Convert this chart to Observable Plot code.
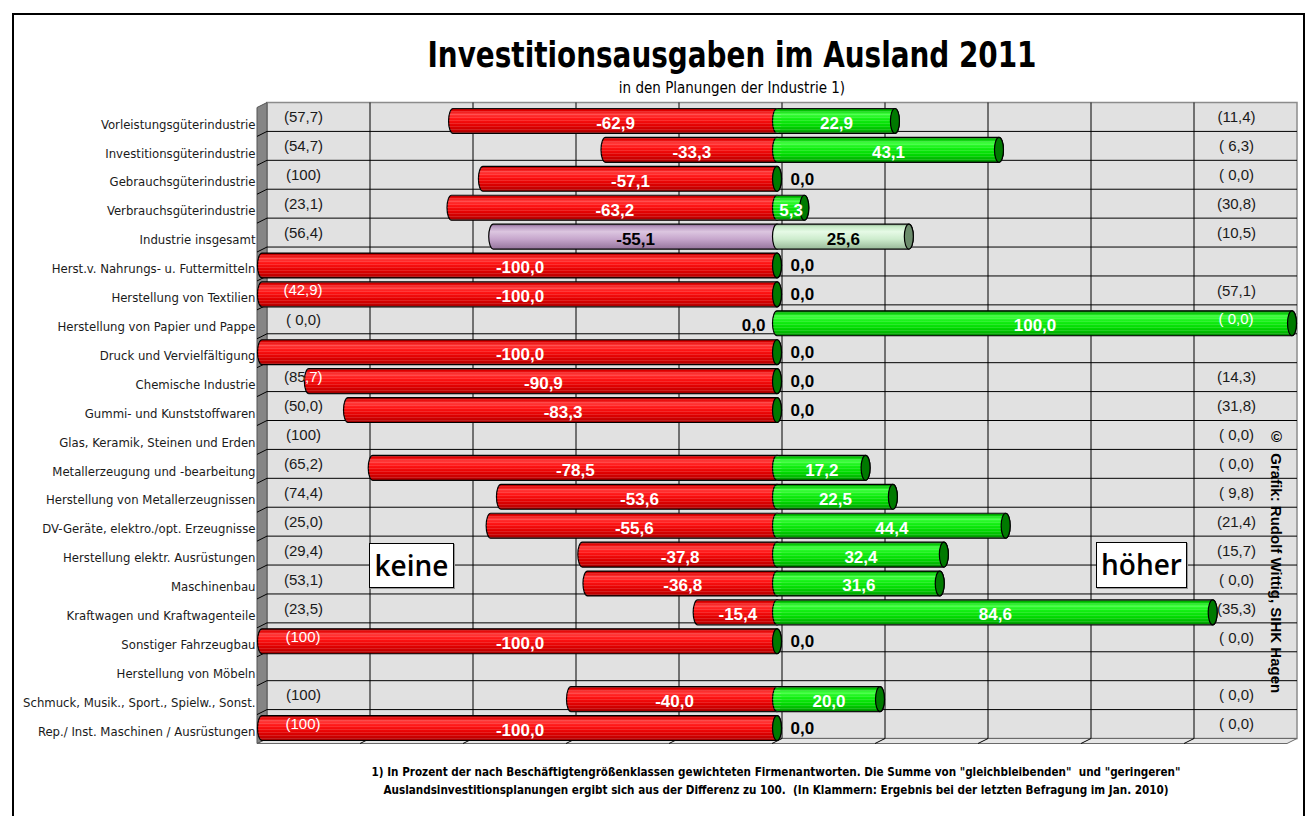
<!DOCTYPE html>
<html>
<head>
<meta charset="utf-8">
<script src="https://cdn.jsdelivr.net/npm/d3@7"></script>
<script src="https://cdn.jsdelivr.net/npm/@observablehq/plot@0.6"></script>
<style>
  html, body { margin: 0; padding: 0; background: #fff; }
  #page { position: relative; width: 1310px; height: 816px; overflow: hidden; background: #fff; }
  .narrow { font-family: 'Liberation Sans Narrow', 'DejaVu Sans Condensed', sans-serif; }
  #border { position: absolute; left: 12px; top: 13px; width: 1293px; height: 840px; border: 2px solid #000; box-sizing: border-box; }
  #title { position: absolute; left: 232px; width: 1000px; top: 35px; text-align: center; font-size: 36px; font-weight: bold; line-height: 40px; color: #000; transform: scaleX(0.86); transform-origin: 500px 50%; }
  #subtitle { position: absolute; left: 382px; width: 700px; top: 79px; text-align: center; font-size: 15px; line-height: 18px; color: #000; }
  #chart { position: absolute; left: 0; top: 96px; }
  .box { position: absolute; background: #fff; border: 1px solid #000; box-shadow: 1px 1px 0 #999; text-align: center; font-family: 'Open Sans', 'Liberation Sans', sans-serif; font-weight: 600; font-size: 28px; color: #000; box-sizing: border-box; }
  #copy { position: absolute; left: 1268px; top: 428px; writing-mode: vertical-rl; font-family: 'Liberation Sans', sans-serif; font-weight: bold; font-size: 15px; color: #000; white-space: pre; }
  #foot { position: absolute; left: 276px; width: 1000px; top: 763px; text-align: center; font-size: 11.6px; font-weight: bold; line-height: 18px; white-space: pre; color: #000; }
</style>
</head>
<body>
<div id="page">
  <div id="border"></div>
  <div id="title" class="narrow">Investitionsausgaben im Ausland 2011</div>
  <div id="subtitle" class="narrow">in den Planungen der Industrie 1)</div>
  <div id="chart"></div>
  <div class="box" style="left:369px;top:543px;width:85px;height:45px;line-height:42px;">keine</div>
  <div class="box" style="left:1096px;top:542px;width:91px;height:46px;line-height:43px;">höher</div>
  <div id="copy">©  Grafik: Rudolf Wittig, SIHK Hagen</div>
  <div id="foot" class="narrow">1) In Prozent der nach Beschäftigtengrößenklassen gewichteten Firmenantworten. Die Summe von "gleichbleibenden"  und "geringeren"
Auslandsinvestitionsplanungen ergibt sich aus der Differenz zu 100.  (In Klammern: Ergebnis bei der letzten Befragung im Jan. 2010)</div>
</div>
<script>
// ---------------- data ----------------
const categories = [
  "Vorleistungsgüterindustrie",
  "Investitionsgüterindustrie",
  "Gebrauchsgüterindustrie",
  "Verbrauchsgüterindustrie",
  "Industrie insgesamt",
  "Herst.v. Nahrungs- u. Futtermitteln",
  "Herstellung von Textilien",
  "Herstellung von Papier und Pappe",
  "Druck und Vervielfältigung",
  "Chemische Industrie",
  "Gummi- und Kunststoffwaren",
  "Glas, Keramik, Steinen und Erden",
  "Metallerzeugung und -bearbeitung",
  "Herstellung von Metallerzeugnissen",
  "DV-Geräte, elektro./opt. Erzeugnisse",
  "Herstellung elektr. Ausrüstungen",
  "Maschinenbau",
  "Kraftwagen und Kraftwagenteile",
  "Sonstiger Fahrzeugbau",
  "Herstellung von Möbeln",
  "Schmuck, Musik., Sport., Spielw., Sonst.",
  "Rep./ Inst. Maschinen / Ausrüstungen"
];
// 2011: share "keine" (negative side) and "höher" (positive side)
const keine  = [-62.9, -33.3, -57.1, -63.2, -55.1, -100, -100, 0, -100, -90.9, -83.3, null, -78.5, -53.6, -55.6, -37.8, -36.8, -15.4, -100, null, -40.0, -100];
const hoeher = [22.9, 43.1, 0, 5.3, 25.6, 0, 0, 100, 0, 0, 0, null, 17.2, 22.5, 44.4, 32.4, 31.6, 84.6, 0, null, 20.0, 0];
// previous survey (Jan. 2010), in brackets
const keinePrev  = [57.7, 54.7, 100, 23.1, 56.4, null, 42.9, 0, null, 85.7, 50.0, 100, 65.2, 74.4, 25.0, 29.4, 53.1, 23.5, 100, null, 100, 100];
const hoeherPrev = [11.4, 6.3, 0, 30.8, 10.5, null, 57.1, 0, null, 14.3, 31.8, 0, 0, 9.8, 21.4, 15.7, 0, 35.3, 0, null, 0, 0];
const gridTicks = [-80, -60, -40, -20, 0, 20, 40, 60, 80];
const totalCategory = "Industrie insgesamt";

// ---------------- helpers ----------------
const rows = categories.map((cat, i) => ({cat, k: keine[i], h: hoeher[i], kp: keinePrev[i], hp: hoeherPrev[i], total: cat === totalCategory}));
const fmt = v => (v < 0 ? "-" : "") + Math.abs(v).toFixed(1).replace(".", ",");
const fmtPrev = v => v === 100 ? "(100)" : "(" + (v < 10 ? " " : "") + v.toFixed(1).replace(".", ",") + ")";

const CAP = 4.5;          // half-width of the cylinder end ellipse
const INSET = 2;          // vertical inset of bars within a row
const PAREN_L_DX = 41, PAREN_R_DX = -56, PAREN_DY = -4, PAREN_SIZE = 15;
const VAL_SIZE = 17;
const NARROW = "'Liberation Sans Narrow', 'DejaVu Sans Condensed', sans-serif";
const VALFONT = "'Liberation Sans', Arial, sans-serif";

function bandwidthOf(y) { return typeof y.bandwidth === "function" ? y.bandwidth() : y.bandwidth; }

// gradient definitions
function defsMark() {
  const defs = d3.create("svg:defs");
  const grad = (id, stops) => {
    const g = defs.append("linearGradient").attr("id", id).attr("x1", 0).attr("y1", 0).attr("x2", 0).attr("y2", 1);
    stops.forEach(([o, c]) => g.append("stop").attr("offset", o).attr("stop-color", c));
  };
  grad("gRed", [[0, "#8a0000"], [0.08, "#e00000"], [0.22, "#ff3a3a"], [0.42, "#ff1414"], [0.7, "#e00000"], [0.9, "#c20000"], [1, "#8a0000"]]);
  grad("gGreen", [[0, "#006000"], [0.08, "#00c400"], [0.22, "#40ff40"], [0.42, "#14f014"], [0.7, "#00d800"], [0.9, "#00b000"], [1, "#006c00"]]);
  grad("gLilac", [[0, "#806088"], [0.1, "#b898c0"], [0.3, "#dcc6e0"], [0.6, "#c6a6cc"], [1, "#95759c"]]);
  grad("gLight", [[0, "#8aa88a"], [0.1, "#c6eac6"], [0.3, "#e6fae6"], [0.6, "#cdeccd"], [1, "#98b898"]]);
  const p = defs.append("pattern").attr("id", "stripes").attr("width", 6).attr("height", 3).attr("patternUnits", "userSpaceOnUse");
  p.append("rect").attr("width", 6).attr("height", 1).attr("fill", "#fff").attr("fill-opacity", 0.13);
  return defs.node();
}

// 3D box: back wall, left wall, floor, grid
function boxMark(index, scales, values, dims) {
  const x = scales.x, y = scales.y;
  const g = d3.create("svg:g");
  const bx = v => x(v) + 5, fx = v => x(v) - 5;
  const top = dims.marginTop, bot = dims.height - dims.marginBottom;
  const bT = top - 4, bB = bot - 4, fB = bot + 1, fT = top + 1;
  g.append("rect").attr("x", bx(-100)).attr("y", bT).attr("width", bx(100) - bx(-100)).attr("height", bB - bT)
    .attr("fill", "#e1e1e1").attr("stroke", "#8c8c8c").attr("stroke-width", 1.5);
  g.append("path").attr("d", `M${fx(-100)},${fB}L${fx(100)},${fB}L${bx(100)},${bB}L${bx(-100)},${bB}Z`)
    .attr("fill", "#e6e6e6").attr("stroke", "#6a6a6a");
  g.append("path").attr("d", `M${fx(-100)},${fT}L${bx(-100)},${bT}L${bx(-100)},${bB}L${fx(-100)},${fB}Z`)
    .attr("fill", "#858585").attr("stroke", "#555");
  categories.forEach((c, i) => {
    if (i === 0) return;
    const yb = y(c) - 4;
    g.append("line").attr("x1", bx(-100)).attr("x2", bx(100)).attr("y1", yb).attr("y2", yb).attr("stroke", "#000").attr("stroke-width", 1);
    g.append("line").attr("x1", fx(-100)).attr("x2", bx(-100)).attr("y1", yb + 5).attr("y2", yb).attr("stroke", "#000").attr("stroke-width", 1);
  });
  gridTicks.forEach(v => {
    g.append("line").attr("x1", bx(v)).attr("x2", bx(v)).attr("y1", bT).attr("y2", bB).attr("stroke", "#000").attr("stroke-width", 1);
    g.append("line").attr("x1", fx(v)).attr("x2", bx(v)).attr("y1", fB).attr("y2", bB).attr("stroke", "#000").attr("stroke-width", 1);
  });
  return g.node();
}

// white copies of the bracket values, visible only where they overlap a bar
function whiteParensMark(index, scales, values, dims) {
  const x = scales.x, y = scales.y, bw = bandwidthOf(y);
  const g = d3.create("svg:g");
  const cp = g.append("clipPath").attr("id", "barClip");
  const addRect = (a, b, yc) => cp.append("rect")
    .attr("x", Math.min(x(a), x(b)) - CAP).attr("y", yc - bw / 2 + INSET)
    .attr("width", Math.abs(x(b) - x(a)) + 2 * CAP).attr("height", bw - 2 * INSET)
    .attr("rx", CAP).attr("ry", (bw - 2 * INSET) / 2);
  rows.forEach(d => {
    const yc = y(d.cat) + bw / 2;
    if (d.k != null && d.k < 0) addRect(d.k, 0, yc);
    if (d.h != null && d.h > 0) addRect(0, d.h, yc);
  });
  const t = g.append("g").attr("clip-path", "url(#barClip)").attr("font-family", VALFONT).attr("font-size", PAREN_SIZE).attr("fill", "#fff").attr("text-anchor", "middle");
  rows.forEach(d => {
    const yc = y(d.cat) + bw / 2 + PAREN_DY;
    if (d.kp != null) t.append("text").attr("x", dims.marginLeft + PAREN_L_DX).attr("y", yc).attr("dy", "0.32em").style("white-space", "pre").text(fmtPrev(d.kp));
    if (d.hp != null) t.append("text").attr("x", dims.width - dims.marginRight + PAREN_R_DX).attr("y", yc).attr("dy", "0.32em").style("white-space", "pre").text(fmtPrev(d.hp));
  });
  return g.node();
}

const redRows = rows.filter(d => d.k != null && d.k < 0);
const greenRows = rows.filter(d => d.h != null && d.h > 0);
const capRows = rows.filter(d => d.h != null);

const barOpts = {y: "cat", insetTop: INSET, insetBottom: INSET, insetLeft: -CAP, insetRight: -CAP, rx: CAP, ry: 12.5, stroke: "#000", strokeWidth: 1.2};

const chart = Plot.plot({
  width: 1310,
  height: 660,
  marginLeft: 262,
  marginRight: 18,
  marginTop: 10.5,
  marginBottom: 13.5,
  style: {background: "transparent", overflow: "visible", fontFamily: NARROW, fontSize: "13px"},
  x: {domain: [-100, 100], axis: null},
  y: {type: "band", domain: categories, padding: 0, round: false, axis: null},
  marks: [
    defsMark,
    boxMark,
    // category labels
    Plot.text(rows, {y: "cat", text: "cat", frameAnchor: "left", textAnchor: "end", dx: -7, dy: 3, fontSize: 13, fontFamily: NARROW, fill: "#1a1a1a"}),
    // previous survey values (black)
    Plot.text(rows.filter(d => d.kp != null), {y: "cat", text: d => fmtPrev(d.kp), frameAnchor: "left", textAnchor: "middle", dx: PAREN_L_DX, dy: PAREN_DY, fontSize: PAREN_SIZE, fontFamily: VALFONT, fill: "#1a1a1a"}),
    Plot.text(rows.filter(d => d.hp != null), {y: "cat", text: d => fmtPrev(d.hp), frameAnchor: "right", textAnchor: "middle", dx: PAREN_R_DX, dy: PAREN_DY, fontSize: PAREN_SIZE, fontFamily: VALFONT, fill: "#1a1a1a"}),
    // "keine" cylinders
    Plot.barX(redRows, {...barOpts, x1: "k", x2: 0, fill: d => d.total ? "url(#gLilac)" : "url(#gRed)"}),
    // "höher" cylinders
    Plot.barX(greenRows, {...barOpts, x1: 0, x2: "h", fill: d => d.total ? "url(#gLight)" : "url(#gGreen)"}),
    Plot.barX(redRows.filter(d => !d.total), {...barOpts, x1: "k", x2: 0, fill: "url(#stripes)", stroke: null}),
    Plot.barX(greenRows.filter(d => !d.total), {...barOpts, x1: 0, x2: "h", fill: "url(#stripes)", stroke: null}),
    // end caps
    Plot.barX(capRows, {...barOpts, x1: "h", x2: "h", fill: d => d.total ? "#6c8c6c" : "#007a00"}),
    whiteParensMark,
    // value labels
    Plot.text(redRows, {y: "cat", x: d => d.k / 2, text: d => fmt(d.k), dy: 2, fontSize: VAL_SIZE, fontWeight: "bold", fontFamily: VALFONT, fill: d => d.total ? "#000" : "#fff"}),
    Plot.text(rows.filter(d => d.k === 0), {y: "cat", x: 0, text: d => fmt(d.k), textAnchor: "end", dx: -12, dy: 2, fontSize: VAL_SIZE, fontWeight: "bold", fontFamily: VALFONT, fill: "#000"}),
    Plot.text(greenRows, {y: "cat", x: d => d.h / 2, text: d => fmt(d.h), dy: 2, fontSize: VAL_SIZE, fontWeight: "bold", fontFamily: VALFONT, fill: d => d.total ? "#000" : "#fff"}),
    Plot.text(rows.filter(d => d.h === 0), {y: "cat", x: 0, text: d => fmt(d.h), textAnchor: "start", dx: 13, dy: 0, fontSize: VAL_SIZE, fontWeight: "bold", fontFamily: VALFONT, fill: "#000"})
  ]
});
document.getElementById("chart").appendChild(chart);
</script>
</body>
</html>
